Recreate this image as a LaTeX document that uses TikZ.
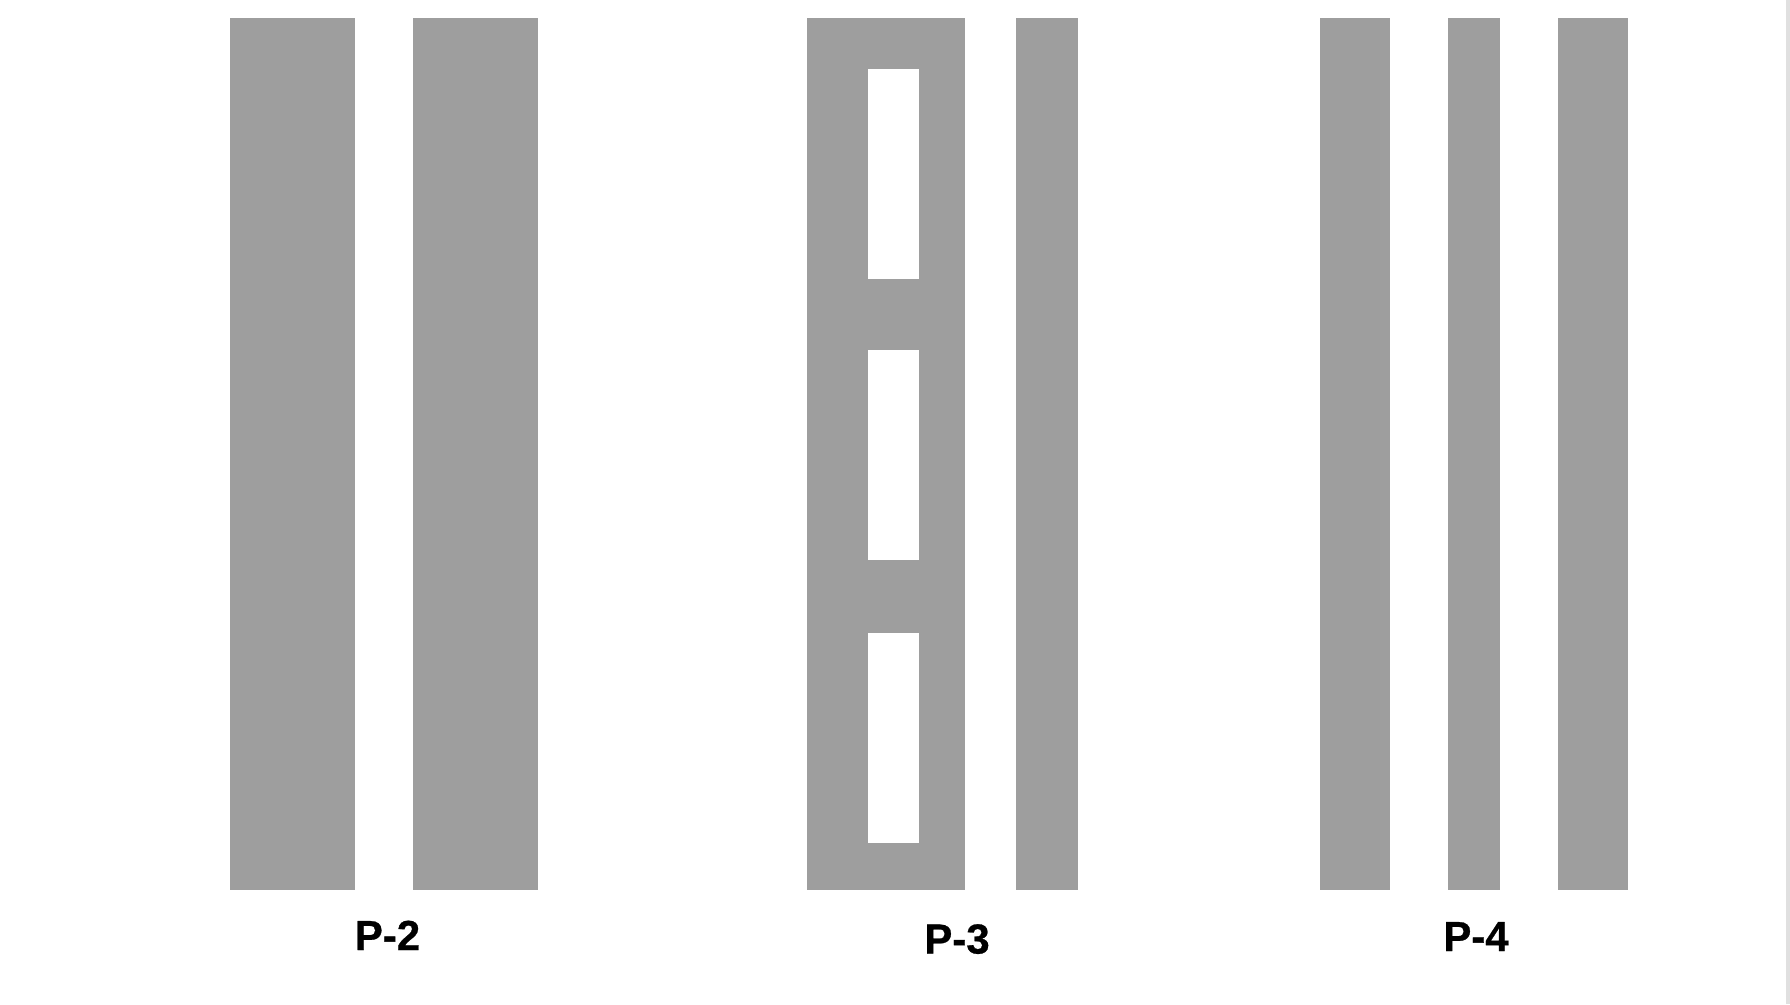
\documentclass[tikz,border=0pt]{standalone}
\usepackage{fontspec}
\setmainfont{Liberation Sans}
\newfontfamily\tagfont[BoldFont={Liberation Sans Bold}, BoldFeatures={FakeBold=0.6}]{Liberation Sans}
\usepackage{tikz}
\usetikzlibrary{positioning}
\usetikzlibrary{calc}
\definecolor{bargray}{HTML}{9E9E9E}
\definecolor{edgegray}{HTML}{E0E0E0}
\tikzset{
  % Common styles for the profiles
  bar/.style={rectangle, fill=bargray, inner sep=0pt, outer sep=0pt, minimum width=#1},
  hole/.style={rectangle, fill=white, inner sep=0pt, outer sep=0pt, minimum width=51pt, minimum height=210pt},
  tag/.style={anchor=base, font=\tagfont\bfseries\fontsize{42}{50}\selectfont}
}

\begin{document}
\begin{tikzpicture}[x=1pt, y=-1pt]
    % Canvas
    \useasboundingbox (0,0) rectangle (1790,1004);
    \fill[white] (0,0) rectangle (1790,1004);
    \fill[edgegray] (1786,0) rectangle (1790,1004);

    % Set the bar height
    \tikzstyle{tall} = [minimum height=872.5pt]

    % Place nodes: P-2
    \node [bar=125pt, tall] (ptwoa) at (292.5,453.75) {};
    \node [bar=125pt, tall] (ptwob) at (475.5,453.75) {};
    \node [tag] (ptwo) at (387.5,950) {P-2};

    % Place nodes: P-3
    \node [bar=158.6pt, tall] (pthreea) at (886,453.75) {};
    \node [hole] (holea) at (893.8,173.9) {};
    \node [hole] (holeb) at (893.8,455.2) {};
    \node [hole] (holec) at (893.8,738.3) {};
    \node [bar=61.4pt, tall] (pthreeb) at (1047,453.75) {};
    \node [tag] (pthree) at (957,953.5) {P-3};

    % Place nodes: P-4
    \node [bar=70pt, tall] (pfoura) at (1355,453.75) {};
    \node [bar=52pt, tall] (pfourb) at (1474,453.75) {};
    \node [bar=70pt, tall] (pfourc) at (1593,453.75) {};
    \node [tag] (pfour) at (1476,951) {P-4};

\end{tikzpicture}
\end{document}
